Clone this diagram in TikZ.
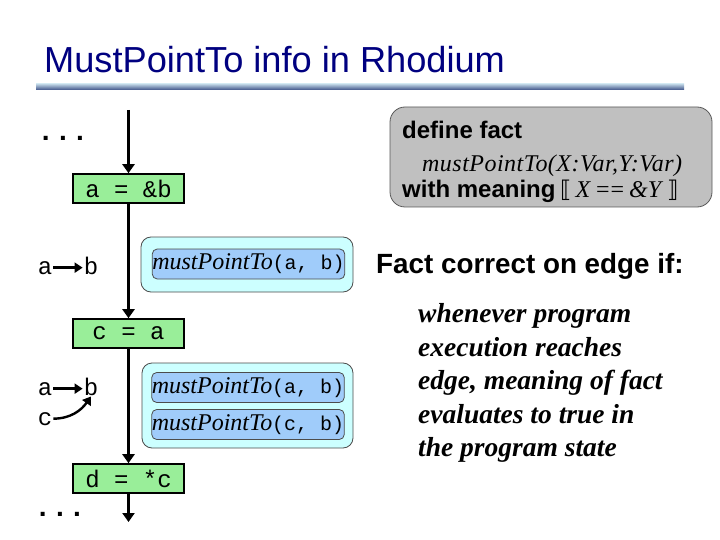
\documentclass[tikz,border=0pt]{standalone}
\usepackage{fontspec}
\setmainfont{Liberation Serif}
\setsansfont{Liberation Sans}
\setmonofont{Liberation Mono}
\newfontfamily\djv{DejaVu Sans}
\newfontfamily\spaceditalic[LetterSpace=2]{Liberation Serif Italic}
\usetikzlibrary{arrows.meta}
\definecolor{titleblue}{RGB}{0,0,128}
\definecolor{codegreen}{RGB}{153,238,153}
\definecolor{factouter}{RGB}{204,255,255}
\definecolor{factinner}{RGB}{160,204,250}
\definecolor{defgray}{RGB}{192,192,192}
\definecolor{linetop}{RGB}{190,212,228}
\definecolor{linebot}{RGB}{60,80,135}
\begin{document}
\begin{tikzpicture}[x=1pt,y=-1pt,
  codebox/.style={draw=black, line width=1.6pt, fill=codegreen, minimum width=111pt,
    minimum height=29pt, inner sep=0pt, font=\ttfamily\fontsize{24}{24}\selectfont},
  flow/.style={line width=2.6pt, -{Triangle[length=9pt,width=12pt]}},
  ptr/.style={line width=2.4pt, -{Triangle[length=8pt,width=10pt]}},
  lbl/.style={anchor=base, inner sep=1pt, font=\ttfamily\fontsize{24}{24}\selectfont},
  outerbox/.style={draw=black!70, line width=0.8pt, fill=factouter, rounded corners=10pt, inner sep=0pt},
  innerbox/.style={draw=black!70, line width=0.8pt, fill=factinner, rounded corners=5pt, inner sep=0pt,
    minimum width=192pt, minimum height=30pt},
  dots/.style={anchor=base, inner sep=0pt, font=\sffamily\bfseries\fontsize{28}{28}\selectfont},
  para/.style={anchor=base west, inner sep=0pt, font=\bfseries\itshape\fontsize{27.5}{30}\selectfont},
  deftext/.style={anchor=base west, inner sep=0pt, font=\sffamily\bfseries\fontsize{24}{24}\selectfont}
]
\useasboundingbox (0,0) rectangle (720,540);
\fill[white] (0,0) rectangle (720,540);

% title
\node[anchor=base west, inner sep=0pt, text=titleblue, font=\sffamily\fontsize{36.2}{40}\selectfont]
  (title) at (44,73) {MustPointTo info in Rhodium};
\shade[top color=linetop, bottom color=linebot] (36,84) rectangle (684,90);

% flow graph
\coordinate (start) at (128.5,110);
\node[codebox] (s1) at (128.5,188.5) {a = \&b};
\node[codebox] (s2) at (128.5,333.5) {c = a};
\node[codebox] (s3) at (128.5,478.5) {d = *c};
\coordinate (end) at (128.5,522);
\draw[flow] (start) -- (s1);
\draw[flow] (s1) -- (s2);
\draw[flow] (s2) -- (s3);
\draw[flow] (s3) -- (end);

\node[dots] (topdots) at (63,141) {.\,\,.\,\,.};
\node[dots] (botdots) at (60,516) {.\,\,.\,\,.};

% pointer pictures
\node[lbl] (la1) at (45,274) {a};
\node[lbl] (lb1) at (91,274) {b};
\draw[ptr] (la1.east) -- (la1.east -| lb1.west);

\node[lbl] (la2) at (45,395) {a};
\node[lbl] (lb2) at (91,395) {b};
\node[lbl] (lc2) at (45,425) {c};
\draw[ptr] (la2.east) -- (la2.east -| lb2.west);
\draw[ptr] (lc2.east) to[out=0, in=-125] (lb2.south);

% fact boxes
\node[outerbox, minimum width=212pt, minimum height=55pt] (o1) at (247,264.5) {};
\node[innerbox] (f1) at (248.5,264) {\fontsize{24}{24}\selectfont\textit{mustPointTo}\ttfamily\fontsize{20}{20}\selectfont(a, b)};

\node[outerbox, minimum width=211pt, minimum height=85pt] (o2) at (247.5,405.5) {};
\node[innerbox] (f2) at (248,387.5) {\fontsize{24}{24}\selectfont\textit{mustPointTo}\ttfamily\fontsize{20}{20}\selectfont(a, b)};
\node[innerbox] (f3) at (248,424.5) {\fontsize{24}{24}\selectfont\textit{mustPointTo}\ttfamily\fontsize{20}{20}\selectfont(c, b)};

% definition box
\node[draw=black!65, line width=0.8pt, fill=defgray, rounded corners=15pt, minimum width=322pt,
  minimum height=100pt, inner sep=0pt] (def) at (551,157) {};
\node[deftext] (d1) at (402,139) {define fact};
\node[anchor=base west, inner sep=0pt, font=\spaceditalic\fontsize{24}{24}\selectfont] (d2) at (422,172) {mustPointTo(X:Var,Y:Var)};
\node[deftext] (d3) at (402,197) {with meaning};
\node[anchor=base west, inner sep=0pt, font=\fontsize{24}{24}\selectfont] (d4) at (560,197)
  {{\djv\fontsize{23}{24}\selectfont ⟦}\hspace{4pt}\textit{X}\hspace{5pt}=\kern1pt=\hspace{5pt}\textit{\&Y}\hspace{4pt}{\djv\fontsize{23}{24}\selectfont ⟧}};

% right text
\node[anchor=base west, inner sep=0pt, font=\sffamily\bfseries\fontsize{27.8}{30}\selectfont] (fc) at (376,273) {Fact correct on edge if:};
\node[para] (l1) at (418,322) {whenever program};
\node[para] (l2) at (418,356) {execution reaches};
\node[para] (l3) at (418,389) {edge, meaning of fact};
\node[para] (l4) at (418,423) {evaluates to true in};
\node[para] (l5) at (418,456) {the program state};
\end{tikzpicture}
\end{document}
